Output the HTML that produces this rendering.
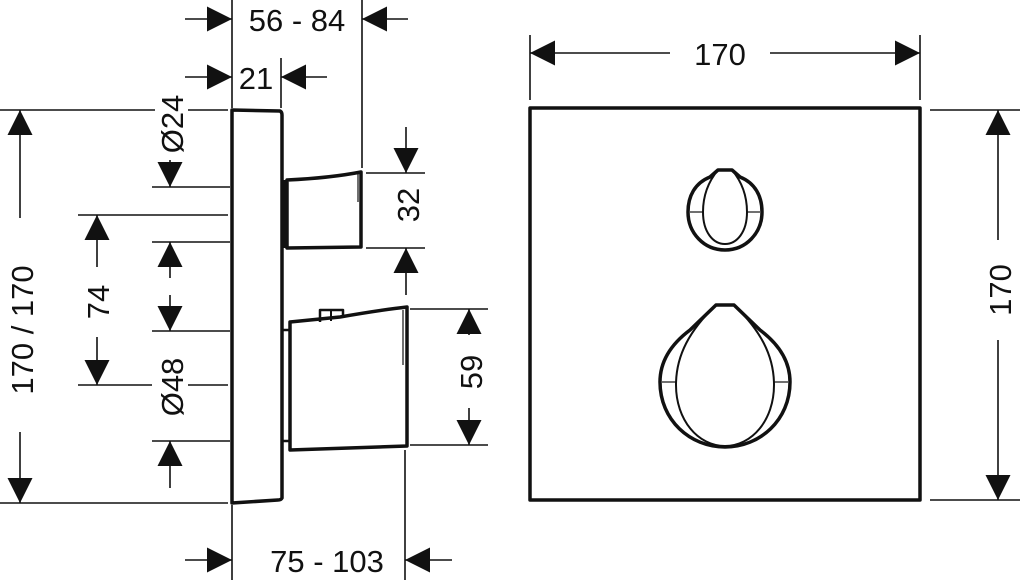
<!DOCTYPE html>
<html><head><meta charset="utf-8"><style>
html,body{margin:0;padding:0;background:#fff;width:1024px;height:580px;overflow:hidden}
svg{display:block}
text{font-family:"Liberation Sans",sans-serif;font-size:31px;fill:#111}
</style></head><body>
<svg width="1024" height="580" viewBox="0 0 1024 580">
<defs>
<marker id="a" viewBox="0 0 10 10" refX="10" refY="5" markerWidth="25" markerHeight="25" markerUnits="userSpaceOnUse" orient="auto"><path d="M0,0 L10,5 L0,10 Z" fill="#111"/></marker>
</defs>
<g stroke="#111" stroke-width="1.6" fill="none">
<line x1="232" y1="0" x2="232" y2="108"/>
<line x1="362" y1="0" x2="362" y2="168"/>
<line x1="281" y1="58" x2="281" y2="108"/>
<line x1="232" y1="505" x2="232" y2="580"/>
<line x1="405" y1="450" x2="405" y2="580"/>
<line x1="0" y1="110" x2="155" y2="110"/><line x1="188" y1="110" x2="228" y2="110"/>
<line x1="0" y1="503" x2="228" y2="503"/>
<line x1="152" y1="187" x2="230" y2="187"/>
<line x1="152" y1="242" x2="230" y2="242"/>
<line x1="78" y1="215" x2="228" y2="215"/>
<line x1="78" y1="385" x2="152" y2="385"/><line x1="188" y1="385" x2="228" y2="385"/>
<line x1="152" y1="331" x2="230" y2="331"/>
<line x1="152" y1="441" x2="230" y2="441"/>
<line x1="366" y1="173" x2="425" y2="173"/>
<line x1="366" y1="248" x2="425" y2="248"/>
<line x1="410" y1="309" x2="488" y2="309"/>
<line x1="410" y1="445" x2="488" y2="445"/>
<line x1="530" y1="35" x2="530" y2="100"/>
<line x1="920" y1="35" x2="920" y2="100"/>
<line x1="930" y1="110" x2="1020" y2="110"/>
<line x1="930" y1="500" x2="1020" y2="500"/>
<line x1="185" y1="19" x2="232" y2="19" marker-end="url(#a)"/>
<line x1="408" y1="19" x2="362" y2="19" marker-end="url(#a)"/>
<line x1="185" y1="77" x2="232" y2="77" marker-end="url(#a)"/>
<line x1="327" y1="77" x2="281" y2="77" marker-end="url(#a)"/>
<line x1="185" y1="560" x2="232" y2="560" marker-end="url(#a)"/>
<line x1="452" y1="560" x2="405" y2="560" marker-end="url(#a)"/>
<line x1="20" y1="218" x2="20" y2="110" marker-end="url(#a)"/>
<line x1="20" y1="432" x2="20" y2="503" marker-end="url(#a)"/>
<line x1="170" y1="160" x2="170" y2="187" marker-end="url(#a)"/>
<line x1="170" y1="278" x2="170" y2="242" marker-end="url(#a)"/>
<line x1="97" y1="267" x2="97" y2="215" marker-end="url(#a)"/>
<line x1="97" y1="337" x2="97" y2="385" marker-end="url(#a)"/>
<line x1="170" y1="295" x2="170" y2="331" marker-end="url(#a)"/>
<line x1="170" y1="488" x2="170" y2="441" marker-end="url(#a)"/>
<line x1="406" y1="127" x2="406" y2="173" marker-end="url(#a)"/>
<line x1="406" y1="295" x2="406" y2="248" marker-end="url(#a)"/>
<line x1="469" y1="335" x2="469" y2="309" marker-end="url(#a)"/>
<line x1="469" y1="408" x2="469" y2="445" marker-end="url(#a)"/>
<line x1="670" y1="53" x2="530" y2="53" marker-end="url(#a)"/>
<line x1="770" y1="53" x2="920" y2="53" marker-end="url(#a)"/>
<line x1="998" y1="240" x2="998" y2="110" marker-end="url(#a)"/>
<line x1="998" y1="340" x2="998" y2="500" marker-end="url(#a)"/>
</g>
<g stroke="#111" stroke-width="3.5" fill="none" stroke-linejoin="round">
<path d="M232,110 L280,111 Q282,112 282,115 L282,498 Q281,500 278,500 L232,503 Z"/>
<path d="M287,180 Q330,178 361,172 L361,247 L287,248 Z"/>
<line x1="285" y1="180" x2="285" y2="248" stroke-width="5"/>
<path d="M290,322 L340,317 Q380,310 407,307 L407,446 L290,450 Z"/>
<path d="M282,330 L290,330 M282,441 L290,441" stroke-width="2.5"/>
<path d="M320,322 L320,310 L343,310 L343,318" stroke-width="2.5"/>
<line x1="331" y1="310" x2="331" y2="321" stroke-width="2"/>
<rect x="530" y="108" width="390" height="392"/>
<path d="M718,170 L732,170 L740,177 C755,183 762,196 762,212 C762,233 746,250 725,250 C704,250 688,233 688,212 C688,196 695,183 710,177 Z"/>
<path d="M718,170 C708,182 703,196 703,212 C703,232 713,244 725,244 C737,244 747,232 747,212 C747,196 742,182 732,170" stroke-width="2"/>
<path d="M716,305 L734,305 L760,330 C780,345 790,362 790,382 C790,420 760,447 725,447 C690,447 660,420 660,382 C660,362 670,345 690,330 Z"/>
<path d="M716,305 C690,330 676,355 676,385 C676,420 698,446 725,446 C752,446 774,420 774,385 C774,355 760,330 734,305" stroke-width="2"/>
</g>
<g stroke="#111" stroke-width="1.2">
<line x1="690" y1="212" x2="703" y2="212"/><line x1="747" y1="212" x2="760" y2="212"/>
<line x1="662" y1="382" x2="676" y2="382"/><line x1="774" y1="382" x2="788" y2="382"/>
<line x1="358" y1="174" x2="358" y2="202"/><line x1="403" y1="310" x2="403" y2="365"/>
</g>
<text x="297" y="31" text-anchor="middle">56 - 84</text>
<text x="256" y="89" text-anchor="middle">21</text>
<text x="327" y="572" text-anchor="middle">75 - 103</text>
<text x="720" y="65" text-anchor="middle">170</text>
<text transform="translate(33,330) rotate(-90)" text-anchor="middle">170 / 170</text>
<text transform="translate(109,302) rotate(-90)" text-anchor="middle">74</text>
<text transform="translate(183,124) rotate(-90)" text-anchor="middle">Ø24</text>
<text transform="translate(183,387) rotate(-90)" text-anchor="middle">Ø48</text>
<text transform="translate(419,205) rotate(-90)" text-anchor="middle">32</text>
<text transform="translate(482,372) rotate(-90)" text-anchor="middle">59</text>
<text transform="translate(1011,290) rotate(-90)" text-anchor="middle">170</text>
</svg>
</body></html>
